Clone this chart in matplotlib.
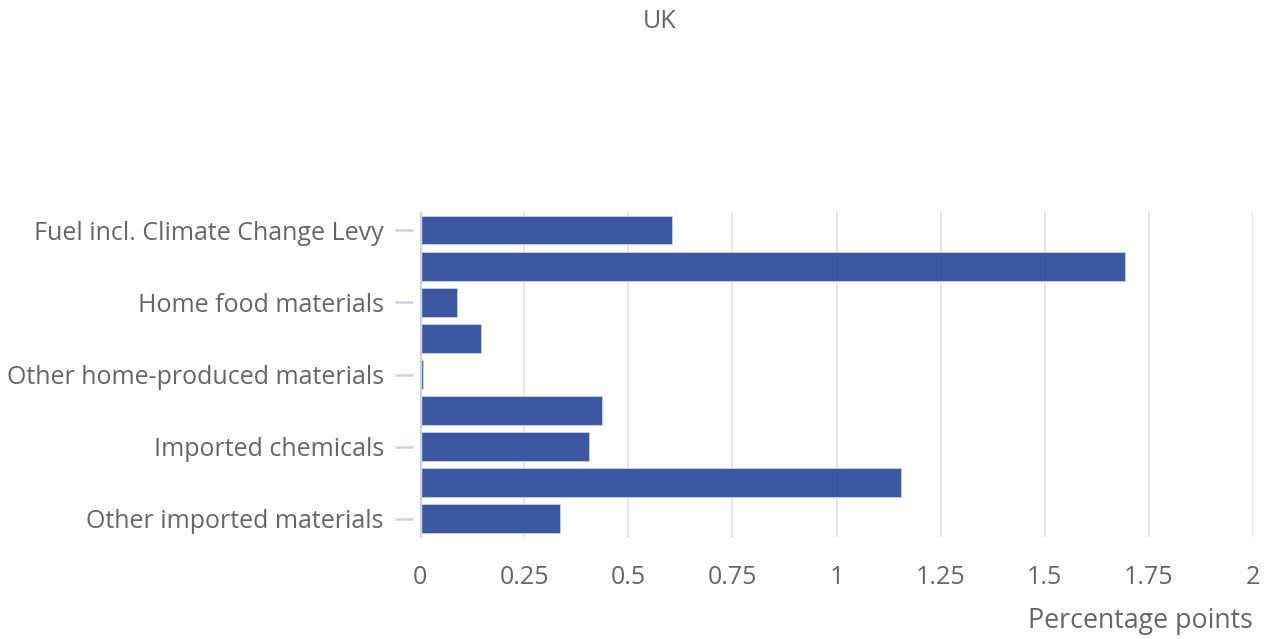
import matplotlib.pyplot as plt

plt.rcParams['font.family'] = ['Open Sans', 'DejaVu Sans']

# values, top bar first
values = [0.605, 1.693, 0.089, 0.146, 0.007, 0.437, 0.406, 1.155, 0.336]
labels = ["Fuel incl. Climate Change Levy", "", "Home food materials", "",
          "Other home-produced materials", "", "Imported chemicals", "",
          "Other imported materials"]
x_ticks = [0, 0.25, 0.5, 0.75, 1, 1.25, 1.5, 1.75, 2]
x_tick_labels = ["0", "0.25", "0.5", "0.75", "1", "1.25", "1.5", "1.75", "2"]

text_col = '#666666'
fig = plt.figure(figsize=(12.67, 6.39), dpi=100)
ax = fig.add_axes([420 / 1267, 1 - 537 / 639, 833 / 1267, 325 / 639])

pos = list(range(len(values)))
ax.barh(pos, values, height=0.8, color='#2c4a9a', alpha=0.92,
        edgecolor='#c8d3ea', linewidth=0.6, zorder=3)
ax.set_ylim(len(values) - 0.5, -0.5)
ax.set_xlim(0, 2)

ax.set_xticks(x_ticks)
ax.set_xticklabels(x_tick_labels)
shown = [i for i, l in enumerate(labels) if l]
ax.set_yticks(shown)
ax.set_yticklabels([labels[i] for i in shown])

ax.grid(True, axis='x', color='#e6e6e6', linewidth=1.5, zorder=0)
ax.axvline(0, color='#c8d3ea', linewidth=2.5, zorder=4)
for s in ax.spines.values():
    s.set_visible(False)
ax.spines['left'].set_position(('outward', 5))

ax.tick_params(axis='x', length=0, pad=20, labelsize=18, labelcolor=text_col)
ax.tick_params(axis='y', length=13, width=1.8, color='#c8d3ea', pad=8,
               labelsize=18, labelcolor=text_col)

fig.text(660 / 1267, 1 - 21 / 639, "UK", ha='center', va='center',
         fontsize=18, color=text_col)
fig.text(1253 / 1267, 1 - 621 / 639, "Percentage points", ha='right',
         va='center', fontsize=19.3, color=text_col)

fig.savefig('out.png', dpi=100)
